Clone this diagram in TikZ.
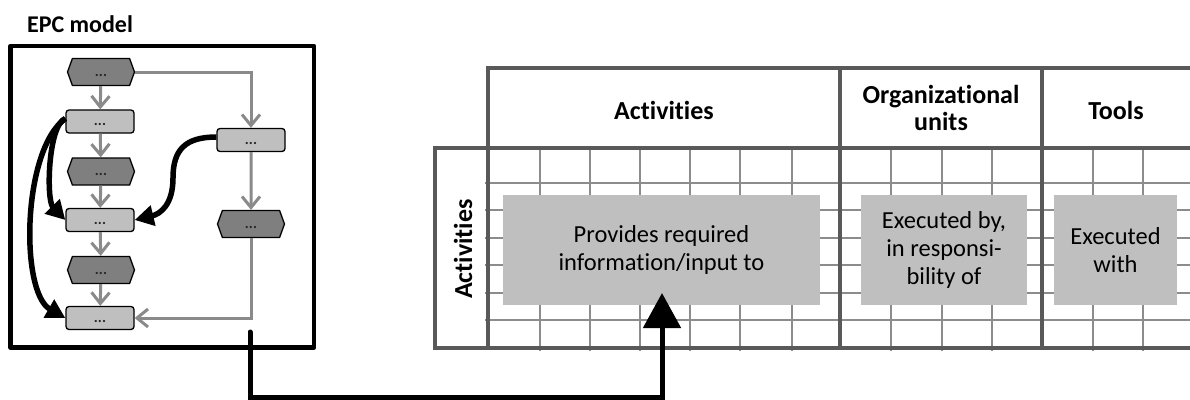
\documentclass[tikz,border=0pt]{standalone}
\usepackage{fontspec}
\setmainfont{Carlito}[Ligatures=NoCommon]
\usetikzlibrary{arrows.meta,shapes.symbols}
\definecolor{thickg}{HTML}{595959}
\definecolor{thing}{HTML}{8C8C8C}
\definecolor{boxg}{HTML}{BFBFBF}
\definecolor{hexg}{HTML}{7F7F7F}
\definecolor{lineg}{HTML}{8A8A8A}
\newcommand{\epcdots}{\raisebox{-4pt}{...}}
\tikzset{
  hexn/.style={signal, signal to=east and west, signal pointer angle=140, draw=black, line width=1.3pt, fill=hexg, minimum width=67pt, minimum height=27pt, inner sep=0pt, text height=0pt, text depth=0pt, font=\fontsize{15}{15}\selectfont\bfseries, text=black!85},
  rectn/.style={rectangle, rounded corners=3pt, draw=black, line width=1.3pt, fill=boxg, minimum width=68pt, minimum height=23pt, inner sep=0pt, text height=0pt, text depth=0pt, font=\fontsize{15}{15}\selectfont\bfseries, text=black!85},
  flow/.style={draw=lineg, line width=3pt, -{Straight Barb[length=11pt,width=18pt]}},
  rel/.style={draw=black, line width=5.5pt, -{Triangle[length=19pt,width=20pt]}},
  thinl/.style={draw=thing, line width=1.5pt},
  thickl/.style={draw=thickg, line width=4pt},
  gbox/.style={fill=boxg, inner sep=0pt, align=center, font=\fontsize{24.5}{28}\selectfont},
  hdr/.style={align=center, inner sep=0pt, font=\fontsize{26}{27}\selectfont\bfseries},
}
\begin{document}
\begin{tikzpicture}[x=1pt,y=-1pt]
\useasboundingbox (0,0) rectangle (1190,399);
% ---------- EPC model ----------
\node[font=\fontsize{24}{26}\selectfont\bfseries, inner sep=0pt] (etitle) at (80,24) {EPC model};
\draw[line width=4.5pt, line join=round] (10.5,46) rectangle (314,347.5);
\node[hexn] (h1) at (101,72) {\epcdots};
\node[rectn] (r1) at (100,121.5) {\epcdots};
\node[hexn] (h2) at (101,171.5) {\epcdots};
\node[rectn] (r2) at (100,220) {\epcdots};
\node[hexn] (h3) at (101,270) {\epcdots};
\node[rectn] (r3) at (100,318) {\epcdots};
\node[rectn] (rr) at (251,140) {\epcdots};
\node[hexn] (hr) at (251,224) {\epcdots};
\draw[flow] (h1) -- (r1);
\draw[flow] (r1) -- (h2);
\draw[flow] (h2) -- (r2);
\draw[flow] (r2) -- (h3);
\draw[flow] (h3) -- (r3);
\draw[flow] (h1.east) -| (rr.north);
\draw[flow] (rr) -- (hr);
\draw[flow] (hr.south) |- (r3.east);
\draw[rel] ([yshift=3pt]r1.west) .. controls (48,125) and (46,200) .. (r2.west);
\draw[rel] ([yshift=3pt]r1.west) .. controls (22,150) and (20,292) .. (r3.west);
\draw[rel] ([yshift=3pt]rr.west) .. controls (185,137) and (173,150) .. (173,178) .. controls (173,205) and (160,214) .. (r2.east);
% ---------- matrix ----------
\foreach \y in {183,210,238,265,293,320} \draw[thinl] (485,\y) -- (1190,\y);
\foreach \x in {540,590,640,690,740,792,891,942,992,1093,1143} \draw[thinl] (\x,146) -- (\x,351);
\draw[thickl] (488,68) -- (1190,68);
\draw[thickl] (435,148) -- (1190,148);
\draw[thickl] (435,348) -- (1190,348);
\draw[thickl] (488,66) -- (488,350);
\draw[thickl] (840,66) -- (840,350);
\draw[thickl] (1042,66) -- (1042,350);
\draw[thickl] (435,146) -- (435,350);
\node[hdr] (hact) at (664,110) {Activities};
\node[hdr] (horg) at (941,108) {Organizational\\units};
\node[hdr] (htool) at (1116,110) {Tools};
\node[hdr, rotate=90] (vact) at (463,249) {Activities};
\node[gbox, minimum width=317pt, minimum height=110pt] (actbox) at (661.5,250) {Provides required\\information/input to};
\node[gbox, minimum width=166pt, minimum height=110pt] (orgbox) at (944,250) {Executed by,\\in responsi-\\bility of};
\node[gbox, minimum width=123pt, minimum height=110pt] (toolbox) at (1115.5,250) {Executed\\with};
% ---------- link ----------
\coordinate (epcout) at (250,332);
\coordinate (bend) at (250,397);
\coordinate (tip) at (662,293);
\draw[line width=5pt, line cap=round, -{Triangle[length=35pt,width=37pt]}] (epcout) -- (bend) -| (tip);
\end{tikzpicture}
\end{document}
